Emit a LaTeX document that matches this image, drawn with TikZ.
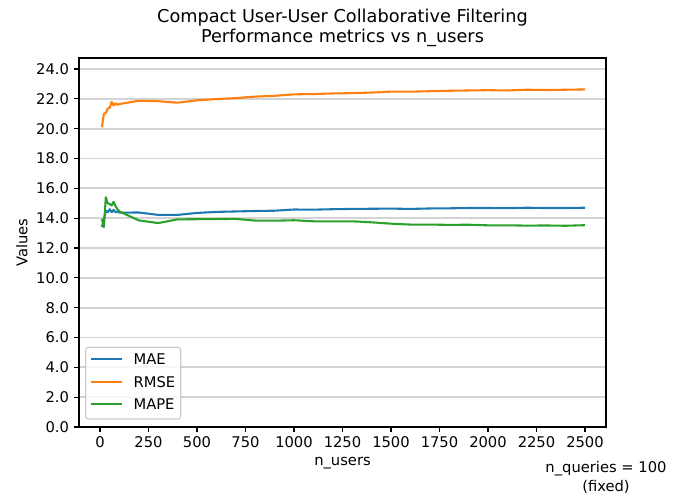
\documentclass[tikz,border=0pt]{standalone}
\usepackage{fontspec}
\setmainfont{DejaVu Sans}
\definecolor{cmae}{HTML}{1F77B4}
\definecolor{crmse}{HTML}{FF7F0E}
\definecolor{cmape}{HTML}{2CA02C}
\definecolor{gridc}{HTML}{D3D3D3}
\definecolor{legedge}{HTML}{CCCCCC}
\begin{document}
\begin{tikzpicture}[x=0.72pt,y=0.72pt,font=\fontsize{10.6}{12.7}\selectfont,
  gridline/.style={draw=gridc,line width=1.4pt},
  spine/.style={draw=black,line width=0.8pt},
  tickmark/.style={draw=black,line width=0.8pt},
  series/.style={line width=1.5pt,line join=round},
  ticklbl/.style={inner sep=0pt},
  titlelbl/.style={font=\fontsize{12.75}{15}\selectfont,inner sep=0pt}]
\useasboundingbox (0,0) rectangle (685,496);
% grid
\foreach \v in {0,2,...,24}{
  \draw[gridline] (79,{69+14.917*\v}) -- (606,{69+14.917*\v});
}
% data
\begin{scope}[shift={(100,69)},xscale=0.194,yscale=14.917]
\draw[series,cmae] plot coordinates {(10,13.4) (20,13.9) (30,14.5) (40,14.4) (50,14.6) (60,14.4) (70,14.55) (80,14.4) (90,14.45) (100,14.37) (200,14.38) (300,14.22) (400,14.22) (500,14.35) (600,14.42) (700,14.45) (800,14.48) (900,14.5) (1000,14.58) (1100,14.57) (1200,14.6) (1300,14.62) (1400,14.63) (1500,14.64) (1600,14.62) (1700,14.65) (1800,14.66) (1900,14.68) (2000,14.68) (2100,14.67) (2200,14.7) (2300,14.68) (2400,14.68) (2500,14.7)};
\draw[series,crmse] plot coordinates {(10,20.1) (20,21.0) (30,21.05) (40,21.35) (50,21.4) (60,21.8) (70,21.55) (80,21.7) (90,21.6) (100,21.65) (200,21.87) (300,21.84) (400,21.74) (500,21.9) (600,21.98) (700,22.05) (800,22.15) (900,22.2) (1000,22.3) (1100,22.32) (1200,22.36) (1300,22.38) (1400,22.42) (1500,22.48) (1600,22.48) (1700,22.51) (1800,22.54) (1900,22.56) (2000,22.58) (2100,22.56) (2200,22.61) (2300,22.59) (2400,22.61) (2500,22.63)};
\draw[series,cmape] plot coordinates {(10,13.95) (20,13.4) (30,15.4) (40,15.0) (50,14.95) (60,14.85) (70,15.1) (80,14.8) (90,14.6) (100,14.45) (200,13.85) (300,13.67) (400,13.92) (500,13.93) (600,13.94) (700,13.95) (800,13.84) (900,13.83) (1000,13.86) (1100,13.79) (1200,13.78) (1300,13.79) (1400,13.72) (1500,13.63) (1600,13.57) (1700,13.57) (1800,13.55) (1900,13.56) (2000,13.52) (2100,13.52) (2200,13.5) (2300,13.51) (2400,13.49) (2500,13.53)};
\end{scope}
% spines
\draw[spine] (79,69) rectangle (606,438);
% y ticks
\foreach \v in {0,2,...,24}{
  \draw[tickmark] (79,{69+14.917*\v}) -- (74.1,{69+14.917*\v});
  \node[ticklbl,anchor=east] (yt\v) at (69.3,{69+14.917*\v}) {\v.0};
}
% x ticks
\foreach \n in {0,250,...,2500}{
  \draw[tickmark] ({100+0.194*\n},69) -- ({100+0.194*\n},64.1);
  \node[ticklbl,anchor=north] (xt\n) at ({100+0.194*\n},59.3) {\n};
}
% labels
\node[titlelbl] (t1) at (342.5,478) {Compact User-User Collaborative Filtering};
\node[titlelbl] (t2) at (342.5,458) {Performance metrics vs n\_users};
\node[inner sep=0pt,rotate=90] (ylab) at (22,253.5) {Values};
\node[inner sep=0pt] (xlab) at (342.5,33) {n\_users};
\node[inner sep=0pt] (nq) at (606,27) {n\_queries = 100};
\node[inner sep=0pt] (fx) at (606,9) {(fixed)};
% legend
\draw[draw=legedge,fill=white,fill opacity=0.8,line width=0.8pt,rounded corners=2pt] (85.7,77) rectangle (180.7,148.7);
\draw[series,cmae] (90.7,136.7) -- (122.3,136.7);
\draw[series,crmse] (90.7,114.3) -- (122.3,114.3);
\draw[series,cmape] (90.7,92) -- (122.3,92);
\node[inner sep=0pt,anchor=west] (lg1) at (133.3,136.7) {MAE};
\node[inner sep=0pt,anchor=west] (lg2) at (133.3,114.3) {RMSE};
\node[inner sep=0pt,anchor=west] (lg3) at (133.3,92) {MAPE};
\end{tikzpicture}
\end{document}
